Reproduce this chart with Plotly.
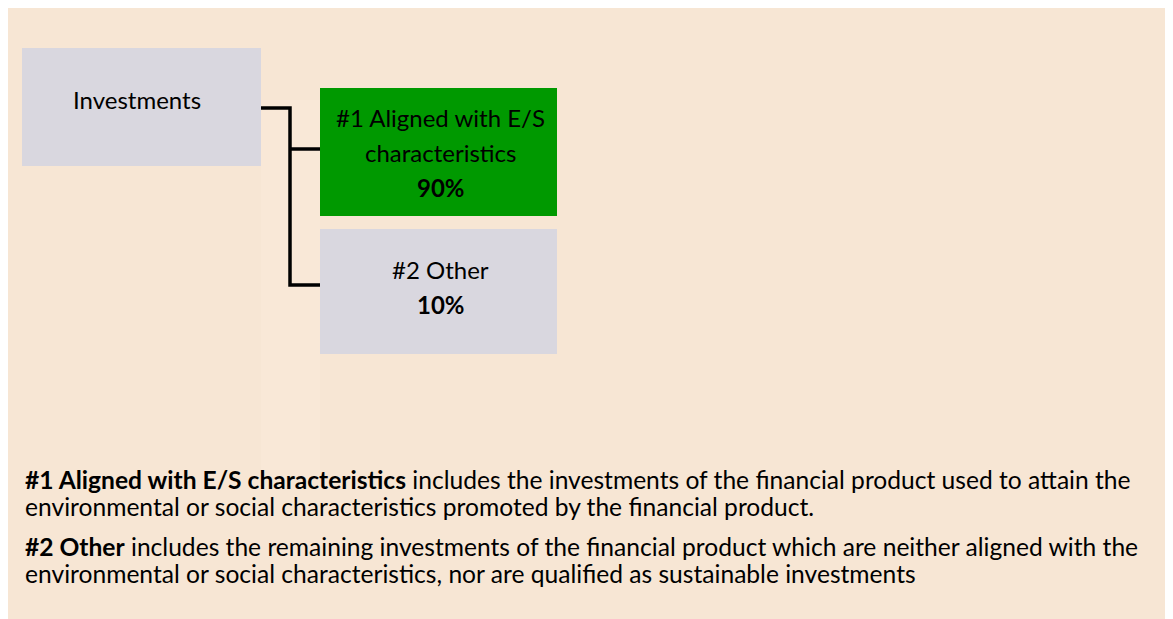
import plotly.graph_objects as go

# ---- content (data) ----
root_label = ["Investments"]
branch_titles = [["#1 Aligned with E/S", "characteristics"], ["#2 Other"]]
branch_shares = [90, 10]
notes = [
    ["<b>#1 Aligned with E/S characteristics</b> includes the investments of the financial product used to attain the",
     "environmental or social characteristics promoted by the financial product."],
    ["<b>#2 Other</b> includes the remaining investments of the financial product which are neither aligned with the",
     "environmental or social characteristics, nor are qualified as sustainable investments"],
]

# ---- styling / geometry (page pixel coordinates) ----
PAGE_MARGIN = 8
W, H = 1173 - 2 * PAGE_MARGIN, 619 - PAGE_MARGIN
FONT = "Lato"
BG = "#F7E6D4"
GREY = "#D9D7DF"
GREEN = "#009900"
box_colors = [GREEN, GREY]
root_box = dict(x0=22, x1=261, y0=48, y1=166)
branch_boxes = [dict(x0=320, x1=557, y0=88, y1=216), dict(x0=320, x1=557, y0=229, y1=354)]
branch_text_y = [[117.5, 152, 187], [269, 304]]
note_line_y = [[479, 506], [546.5, 573.5]]
trunk_x = 290
branch_link_y = [149, 285]
root_link_y = 108

fig = go.Figure()
shapes = []
annotations = []

# faint lighter column
shapes.append(dict(type="rect", x0=261, x1=320, y0=100, y1=470, fillcolor="#F9E8D7", line_width=0, layer="below"))

# root box
shapes.append(dict(type="rect", **root_box, fillcolor=GREY, line_width=0))
annotations.append(dict(x=71, y=99, text=root_label[0], xanchor="left", yanchor="middle",
                        font=dict(family=FONT, size=24, color="black"), showarrow=False))

# connectors
shapes.append(dict(type="path",
                   path=f"M {root_box['x1']},{root_link_y} L {trunk_x},{root_link_y} L {trunk_x},{branch_link_y[-1]} L {branch_boxes[-1]['x0']},{branch_link_y[-1]}",
                   line=dict(color="black", width=3.5)))
for i, by in enumerate(branch_link_y[:-1]):
    shapes.append(dict(type="line", x0=trunk_x, x1=branch_boxes[i]["x0"], y0=by, y1=by,
                       line=dict(color="black", width=3.5)))

# branch boxes
for i, (bx, col) in enumerate(zip(branch_boxes, box_colors)):
    shapes.append(dict(type="rect", **bx, fillcolor=col, line_width=0))
    cx = (bx["x0"] + bx["x1"]) / 2
    lines = branch_titles[i] + [f"<b>{branch_shares[i]}%</b>"]
    for txt, ty in zip(lines, branch_text_y[i]):
        annotations.append(dict(x=cx + 2, y=ty, text=txt, xanchor="center", yanchor="middle",
                                font=dict(family=FONT, size=24, color="black"), showarrow=False))

# notes
for para, ys in zip(notes, note_line_y):
    for txt, ty in zip(para, ys):
        annotations.append(dict(x=23, y=ty, text=txt, xanchor="left", yanchor="middle",
                                font=dict(family=FONT, size=24.6, color="black"), showarrow=False))

fig.update_layout(
    width=W, height=H, margin=dict(l=0, r=0, t=0, b=0),
    paper_bgcolor=BG, plot_bgcolor=BG,
    xaxis=dict(range=[PAGE_MARGIN, PAGE_MARGIN + W], visible=False, fixedrange=True),
    yaxis=dict(range=[PAGE_MARGIN + H, PAGE_MARGIN], visible=False, fixedrange=True),
    shapes=shapes, annotations=annotations, showlegend=False,
)
fig.write_html("out.html")
